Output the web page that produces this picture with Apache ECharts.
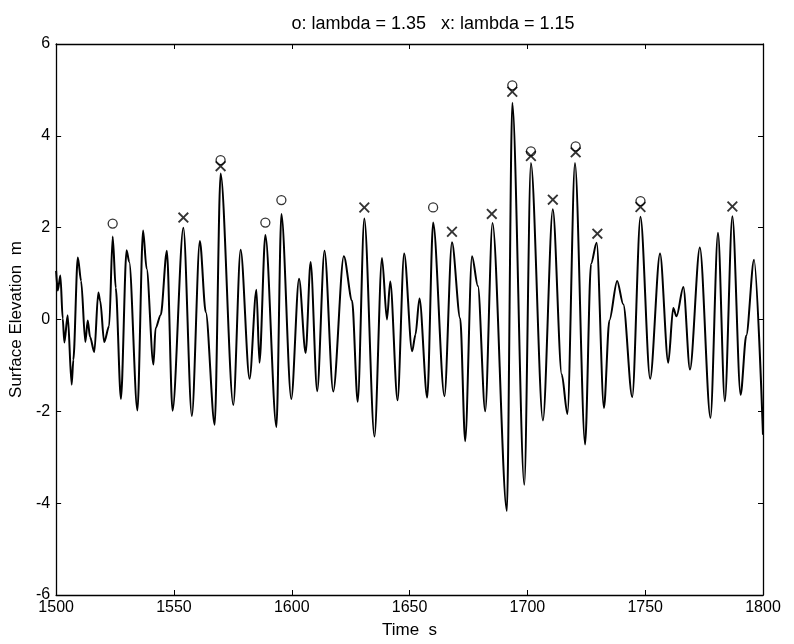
<!DOCTYPE html>
<html>
<head>
<meta charset="utf-8">
<script src="https://cdn.jsdelivr.net/npm/echarts@6/dist/echarts.min.js"></script>
<style>html,body{margin:0;padding:0;background:#fff;}#c{width:794px;height:644px;}</style>
</head>
<body>
<div id="c"></div>
<script>
// Surface elevation record (time in s, elevation in m)
var times = [1500.0,1500.7,1501.8,1502.8,1503.5,1504.9,1506.6,1507.3,1509.2,1510.6,1512.4,1513.4,1514.4,1516.2,1517.9,1518.7,1520.4,1522.5,1524.0,1525.3,1527.5,1529.9,1531.0,1534.5,1536.9,1538.4,1541.3,1542.2,1544.4,1547.0,
1549.4,1554.0,1557.6,1561.0,1563.5,1567.3,1569.8,1575.2,1578.3,1582.1,1585.0,1586.3,1588.8,1593.5,1595.6,
1599.8,1603.1,1605.9,1608.0,1610.8,1613.9,1617.6,1622.1,1625.6,1628.0,1630.8,1635.1,1638.3,1640.4,1641.8,1644.9,1647.7,
1651.1,1652.5,1654.2,1657.5,1660.0,1664.8,1668.0,1671.5,1673.6,1676.5,1679.0,1682.1,1685.2,1691.3,1693.6,1698.7,1701.5,
1706.6,1710.8,1714.6,1717.0,1720.2,1724.5,1727.0,1729.4,1732.5,1734.8,1738.1,1740.7,1744.5,1748.0,
1752.1,1756.3,1759.8,1761.9,1763.3,1766.2,1769.0,1773.2,1777.7,1780.9,1783.8,1787.0,1790.5,1792.9,1796.2,1800.0];
var elevation = [1.06,0.63,0.96,0.02,-0.50,0.09,-1.42,-0.88,1.35,0.84,-0.49,-0.02,-0.38,-0.71,0.59,0.41,-0.49,-0.14,1.81,0.69,-1.73,1.51,1.26,-1.98,1.94,1.11,-0.98,-0.19,0.10,1.50,
-1.99,2.00,-2.10,1.71,0.16,-2.29,3.18,-1.86,1.52,-1.29,0.65,-0.94,1.84,-2.34,2.30,
-1.73,0.89,-0.73,1.25,-1.56,1.50,-1.57,1.38,0.41,-1.79,2.20,-2.55,1.34,0.00,0.83,-1.76,1.44,
-0.69,-0.33,0.46,-1.70,2.11,-1.67,1.68,0.02,-2.65,1.38,0.73,-2.00,2.10,-4.17,4.72,-3.60,3.41,
-2.20,2.40,-1.20,-2.06,3.41,-2.72,1.21,1.67,-1.93,-0.02,0.84,0.33,-1.69,2.24,
-1.29,1.44,-0.94,0.25,0.07,0.71,-1.09,1.57,-2.14,1.89,-1.78,2.25,-1.64,-0.35,1.30,-2.51];

// o markers: lambda = 1.35
var oTimes  = [1524.0,1569.8,1588.8,1595.6,1660.0,1693.6,1701.5,1720.5,1748.0];
var oValues = [2.09,3.47,2.11,2.60,2.44,5.10,3.66,3.77,2.58];
// x markers: lambda = 1.15
var xTimes  = [1554.0,1569.8,1630.8,1668.0,1684.9,1693.6,1701.5,1710.8,1720.5,1729.7,1748.0,1787.0];
var xValues = [2.22,3.34,2.44,1.91,2.30,4.96,3.56,2.61,3.64,1.87,2.45,2.46];

var xTicks = [1500,1550,1600,1650,1700,1750,1800];
var yTicks = [-6,-4,-2,0,2,4,6];

var titleText = 'o: lambda = 1.35   x: lambda = 1.15';
var xName = 'Time  s';
var yName = 'Surface Elevation  m';

var FONT = '"Liberation Sans", Arial, sans-serif';
var chart = echarts.init(document.getElementById('c'), null, {renderer: 'canvas'});

function zip(a, b) { return a.map(function (v, i) { return [v, b[i]]; }); }

var axisLine = {show: true, onZero: false, lineStyle: {color: '#000', width: 1.3}};
var tick = {show: true, inside: true, length: 5, lineStyle: {color: '#000', width: 1}};
var xCommon = {type: 'value', min: xTicks[0], max: xTicks[xTicks.length - 1], interval: 50, splitLine: {show: false}, axisLine: axisLine, axisTick: tick};
var yCommon = {type: 'value', min: yTicks[0], max: yTicks[yTicks.length - 1], interval: 2, splitLine: {show: false}, axisLine: axisLine, axisTick: tick};

var xShape = 'path://M0,1.2L1.2,0L5,3.8L8.8,0L10,1.2L6.2,5L10,8.8L8.8,10L5,6.2L1.2,10L0,8.8L3.8,5Z';

chart.setOption({
  animation: false,
  backgroundColor: '#fff',
  title: {text: titleText, left: 428, top: 10, textAlign: 'center',
          textStyle: {fontFamily: FONT, fontSize: 18, fontWeight: 'normal', color: '#000'}},
  grid: {left: 53, right: 31, top: 44, bottom: 45},
  xAxis: [
    Object.assign({}, xCommon, {position: 'bottom', name: xName, nameLocation: 'middle', nameGap: 27,
      nameTextStyle: {fontFamily: FONT, fontSize: 17, color: '#000'},
      axisLabel: {show: true, fontFamily: FONT, fontSize: 16, color: '#000', margin: 5,
                  formatter: function (v) { return String(v); }}}),
    Object.assign({}, xCommon, {position: 'top', axisLabel: {show: false}})
  ],
  yAxis: [
    Object.assign({}, yCommon, {position: 'left', name: yName, nameLocation: 'middle', nameGap: 29,
      nameTextStyle: {fontFamily: FONT, fontSize: 17, color: '#000'},
      axisLabel: {show: true, fontFamily: FONT, fontSize: 16, color: '#000', margin: 6}}),
    Object.assign({}, yCommon, {position: 'right', axisLabel: {show: false}})
  ],
  series: [
    {type: 'line', data: zip(times, elevation), showSymbol: false, smooth: 0.3, smoothMonotone: 'x',
     lineStyle: {color: '#000', width: 2}},
    {type: 'scatter', data: zip(oTimes, oValues), symbol: 'circle', symbolSize: 9,
     itemStyle: {color: '#fff', borderColor: '#000', borderWidth: 1.3}},
    {type: 'scatter', data: zip(xTimes, xValues), symbol: xShape, symbolSize: 11,
     itemStyle: {color: '#000'}}
  ]
});
</script>
</body>
</html>
